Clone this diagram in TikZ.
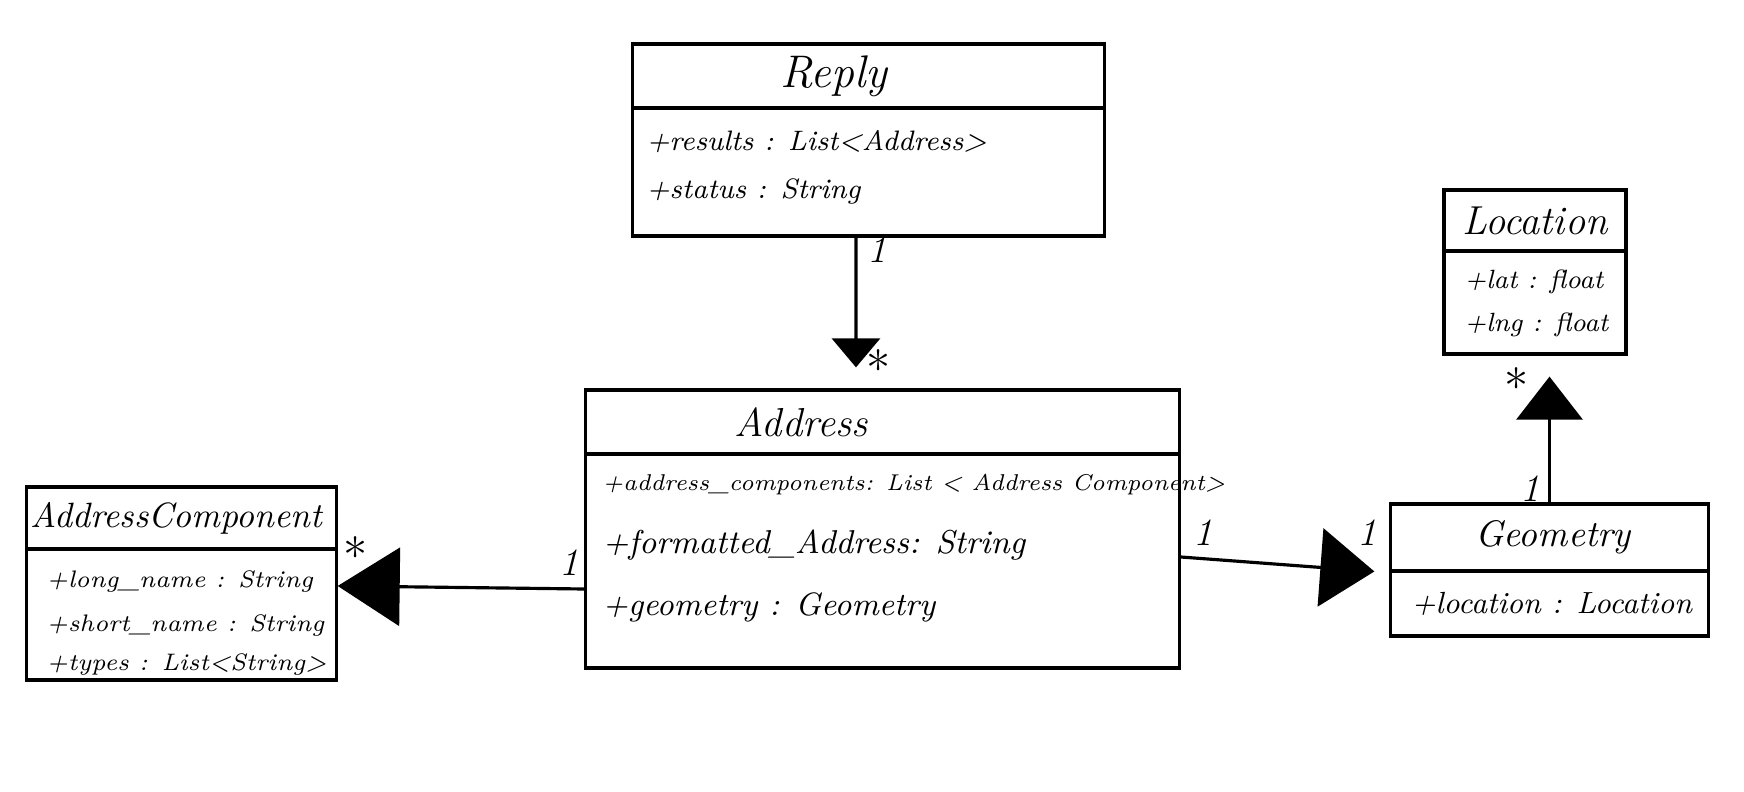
\documentclass[tikz,border=0pt]{standalone}
\usepackage{fontspec}
\usetikzlibrary{arrows.meta}

\tikzset{
    box/.style={draw=black,line width=0.9pt,inner sep=0pt},
    cls/.style={inner sep=0pt,font=\fontsize{11.5}{13}\selectfont\itshape},
    attr/.style={anchor=west,inner sep=0pt,font=\fontsize{8}{10}\selectfont\itshape},
    mult/.style={inner sep=0pt,font=\fontsize{11}{13}\selectfont\itshape},
    star/.style={inner sep=0pt,font=\fontsize{14}{16}\selectfont}
}

\begin{document}
\begin{tikzpicture}[x=0.01cm,y=-0.01cm,line width=0.9pt]
                \useasboundingbox (0,0) rectangle (1744,792);
                % classes
                \node[box,minimum width=4.71cm,minimum height=0.64cm](ReplyT)at(868.5, 76){};
                \node[box,minimum width=4.71cm,minimum height=1.28cm](ReplyB)at(868.5, 172){};
                \node[cls,font=\fontsize{13}{15}\selectfont\itshape](ReplyN)at(834, 76){Reply};
                \node[attr](ReplyA1)at(645, 142){+results : List<Address>};
                \node[attr](ReplyA2)at(645, 191){+status : String};

                \node[box,minimum width=5.93cm,minimum height=0.64cm](AddrT)at(882.5, 422){};
                \node[box,minimum width=5.93cm,minimum height=2.14cm](AddrB)at(882.5, 561){};
                \node[cls](AddrN)at(801, 422){Address};
                \node[attr,font=\fontsize{6.5}{8}\selectfont\itshape](AddrA1)at(601, 485){+address\_components: List < Address Component>};
                \node[attr,font=\fontsize{9.4}{11}\selectfont\itshape](AddrA2)at(601, 545){+formatted\_Address: String};
                \node[attr,font=\fontsize{9.2}{11}\selectfont\itshape](AddrA3)at(601, 607){+geometry : Geometry};

                \node[box,minimum width=3.09cm,minimum height=0.62cm](CompT)at(181.5, 518){};
                \node[box,minimum width=3.09cm,minimum height=1.31cm](CompB)at(181.5, 614.5){};
                \node[cls,font=\fontsize{10}{12}\selectfont\itshape](CompN)at(176, 518){AddressComponent};
                \node[attr,font=\fontsize{6.8}{8}\selectfont\itshape](CompA1)at(45, 582){+long\_name : String};
                \node[attr,font=\fontsize{6.8}{8}\selectfont\itshape](CompA2)at(45, 626){+short\_name : String};
                \node[attr,font=\fontsize{6.8}{8}\selectfont\itshape](CompA3)at(45, 665){+types : List<String>};

                \node[box,minimum width=3.17cm,minimum height=0.67cm](GeomT)at(1549.5, 537.5){};
                \node[box,minimum width=3.17cm,minimum height=0.65cm](GeomB)at(1549.5, 603.5){};
                \node[cls,font=\fontsize{10.5}{12}\selectfont\itshape](GeomN)at(1553, 537.5){Geometry};
                \node[attr,font=\fontsize{8.7}{10}\selectfont\itshape](GeomA1)at(1410, 604){+location : Location};

                \node[box,minimum width=1.82cm,minimum height=0.61cm](LocT)at(1535, 220.5){};
                \node[box,minimum width=1.82cm,minimum height=1.03cm](LocB)at(1535, 302.5){};
                \node[cls](LocN)at(1535, 220.5){Location};
                \node[attr,font=\fontsize{7.5}{9}\selectfont\itshape](LocA1)at(1463, 282){+lat : float};
                \node[attr,font=\fontsize{7.5}{9}\selectfont\itshape](LocA2)at(1463, 325){+lng : float};

                % associations
                \draw[-{Triangle[length=0.29cm,width=0.48cm]},shorten >=0.21cm]
                    ([xshift=-0.125cm]ReplyB.south) -- ([xshift=-0.265cm]AddrT.north);
                \draw[-{Triangle[length=0.62cm,width=0.78cm]}]
                    ([yshift=-0.28cm]AddrB.west) -- ([yshift=0.285cm]CompB.east);
                \draw[-{Triangle[length=0.54cm,width=0.78cm]},shorten >=0.15cm]
                    ([yshift=0.04cm]AddrB.east) -- (GeomT.south west);
                \draw[-{Triangle[length=0.43cm,width=0.66cm]},shorten >=0.21cm]
                    (GeomT.north) -- (GeomT.north |- LocB.south);

                % multiplicities
                \node[mult](m1)at(877, 250){1};
                \node[star](m2)at(879, 368){*};
                \node[star](m3)at(356, 555){*};
                \node[mult](m4)at(569, 563){1};
                \node[mult](m5)at(1203, 533){1};
                \node[mult](m6)at(1367, 533){1};
                \node[star](m7)at(1517, 386){*};
                \node[mult](m8)at(1530, 489){1};
            \end{tikzpicture}
\end{document}
